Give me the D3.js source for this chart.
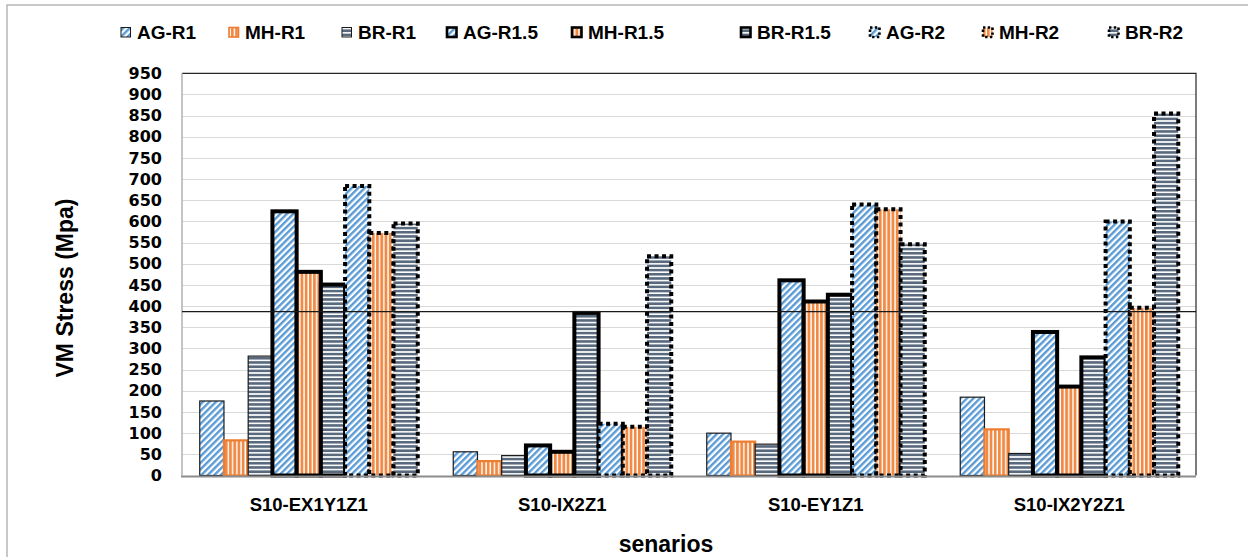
<!DOCTYPE html>
<html>
<head>
<meta charset="utf-8">
<script src="https://cdn.jsdelivr.net/npm/d3@7"></script>
<style>
  body { margin: 0; background: #fff; }
  svg { display: block; }
</style>
</head>
<body>
<svg id="chart" width="1248" height="557"></svg>
<script>
// ---------------- DATA ----------------
const categories = ["S10-EX1Y1Z1", "S10-IX2Z1", "S10-EY1Z1", "S10-IX2Y2Z1"];
const seriesNames = ["AG-R1", "MH-R1", "BR-R1", "AG-R1.5", "MH-R1.5", "BR-R1.5", "AG-R2", "MH-R2", "BR-R2"];
const agR1  = [176, 56, 100, 185];
const mhR1  = [83, 34, 80, 109];
const brR1  = [282, 47, 74, 52];
const agR15 = [624, 71, 461, 339];
const mhR15 = [481, 56, 411, 210];
const brR15 = [451, 384, 427, 279];
const agR2  = [684, 122, 640, 600];
const mhR2  = [573, 115, 629, 396];
const brR2  = [595, 518, 546, 855];
const limitValue = 387;
const yTickValues = [0, 50, 100, 150, 200, 250, 300, 350, 400, 450, 500, 550, 600, 650, 700, 750, 800, 850, 900, 950];
const yMax = 950;
const yTitle = "VM Stress (Mpa)";
const xTitle = "senarios";

const seriesValues = [agR1, mhR1, brR1, agR15, mhR15, brR15, agR2, mhR2, brR2];

// ---------------- LAYOUT ----------------
const svg = d3.select("#chart");
const plot = { left: 182, right: 1196, top: 73.3, bottom: 475.5 };

const x0 = d3.scaleBand().domain(categories).range([plot.left, plot.right])
  .paddingInner(0.14).paddingOuter(0.07);
const x1 = d3.scaleBand().domain(seriesNames).range([0, x0.bandwidth()]).padding(0);
const y = d3.scaleLinear().domain([0, yMax]).range([plot.bottom, plot.top]);

// patterns
const defs = svg.append("defs");
function stripePattern(id, angle, period, lineW, color, bg) {
  const p = defs.append("pattern").attr("id", id)
    .attr("patternUnits", "userSpaceOnUse")
    .attr("width", period).attr("height", period)
    .attr("patternTransform", `rotate(${angle})`);
  p.append("rect").attr("width", period).attr("height", period).attr("fill", bg);
  p.append("rect").attr("x", 0).attr("y", 0).attr("width", lineW).attr("height", period).attr("fill", color);
}
stripePattern("pAG", 45, 4.6, 2.4, "#5b9bd5", "#ffffff");
stripePattern("pMH", 0, 4.2, 2.8, "#f08a45", "#ffffff");
stripePattern("pBR", 90, 4.2, 2.6, "#5a6a7e", "#ffffff");

// styles per series (material -> fill, ratio -> border)
function styleOf(name) {
  const mat = name.split("-")[0];
  const ratio = name.split("-")[1];
  const s = { fill: `url(#p${mat})`, stroke: "#1a1a1a", width: 1.2, dash: null };
  if (ratio === "R1" && mat === "MH") { s.stroke = "#ed7d31"; s.width = 2.2; }
  if (ratio === "R1.5") { s.stroke = "#000"; s.width = 4; }
  if (ratio === "R2") { s.stroke = "#000"; s.width = 4; s.dash = "4 3.5"; }
  return s;
}

// outer chart border
svg.append("rect").attr("x", 7).attr("y", 5).attr("width", 1300).attr("height", 600)
  .attr("fill", "none").attr("stroke", "#a6a6a6").attr("stroke-width", 1.2);

// gridlines
svg.append("g").selectAll("line")
  .data(yTickValues.filter(v => v > 0 && v < yMax))
  .join("line")
  .attr("x1", plot.left).attr("x2", plot.right)
  .attr("y1", d => Math.round(y(d)) + 0.5).attr("y2", d => Math.round(y(d)) + 0.5)
  .attr("stroke", "#d9d9d9").attr("stroke-width", 1);

// plot frame: top & right dark, left light gray
svg.append("path")
  .attr("d", `M${plot.left},${plot.top}H${plot.right}V${plot.bottom}`)
  .attr("fill", "none").attr("stroke", "#262626").attr("stroke-width", 1.2);
svg.append("line").attr("x1", plot.left).attr("x2", plot.left)
  .attr("y1", plot.top).attr("y2", plot.bottom)
  .attr("stroke", "#b0b0b0").attr("stroke-width", 1.5);

// y axis labels
const yAxis = d3.axisLeft(y).tickValues(yTickValues).tickSize(0).tickPadding(20);
const gy = svg.append("g").attr("transform", `translate(${plot.left},0)`).call(yAxis);
gy.select(".domain").remove();
gy.selectAll("text")
  .attr("font-family", "DejaVu Sans, Verdana, sans-serif")
  .attr("font-weight", "bold").attr("font-size", "16px").attr("fill", "#000");

// bars
const groups = svg.append("g").selectAll("g")
  .data(categories)
  .join("g")
  .attr("transform", d => `translate(${x0(d)},0)`);

groups.each(function(cat, ci) {
  const g = d3.select(this);
  seriesNames.forEach((name, si) => {
    const v = seriesValues[si][ci];
    const st = styleOf(name);
    g.append("rect")
      .attr("x", x1(name))
      .attr("y", y(v))
      .attr("width", x1.bandwidth())
      .attr("height", y(0) - y(v))
      .attr("fill", st.fill)
      .attr("stroke", st.stroke)
      .attr("stroke-width", st.width)
      .attr("stroke-dasharray", st.dash);
  });
});

// bottom axis line
svg.append("line").attr("x1", plot.left - 1).attr("x2", plot.right)
  .attr("y1", plot.bottom + 1).attr("y2", plot.bottom + 1)
  .attr("stroke", "#8c8c8c").attr("stroke-width", 2);

// limit line
svg.append("line").attr("x1", plot.left).attr("x2", plot.right)
  .attr("y1", y(limitValue)).attr("y2", y(limitValue))
  .attr("stroke", "#1a1a1a").attr("stroke-width", 1.4);

// x axis labels
const xAxis = d3.axisBottom(x0).tickSize(0).tickPadding(22);
const gx = svg.append("g").attr("transform", `translate(0,${plot.bottom})`).call(xAxis);
gx.select(".domain").remove();
gx.selectAll("text")
  .attr("font-family", "Liberation Sans, Arial, sans-serif")
  .attr("font-weight", "bold").attr("font-size", "18.5px").attr("fill", "#000");

// axis titles
svg.append("text")
  .attr("transform", `translate(73,288) rotate(-90)`)
  .attr("text-anchor", "middle")
  .attr("font-family", "Liberation Sans, Arial, sans-serif")
  .attr("font-weight", "bold").attr("font-size", "23px")
  .text(yTitle);
svg.append("text")
  .attr("x", 666).attr("y", 552)
  .attr("text-anchor", "middle")
  .attr("font-family", "Liberation Sans, Arial, sans-serif")
  .attr("font-weight", "bold").attr("font-size", "23px")
  .text(xTitle);

// legend
const legendX = [120, 228, 341, 446, 571, 740, 869, 982, 1108];
const legend = svg.append("g");
seriesNames.forEach((name, i) => {
  const st = styleOf(name);
  const lx = legendX[i];
  const sw = st.width > 3 ? 2.6 : (st.width > 2 ? 1.6 : 1);
  legend.append("rect")
    .attr("x", lx + 1).attr("y", 27.5).attr("width", 9.5).attr("height", 9.5)
    .attr("fill", st.fill).attr("stroke", st.stroke).attr("stroke-width", sw)
    .attr("stroke-dasharray", st.dash ? "2.4 2.4" : null);
  legend.append("text")
    .attr("x", lx + 17).attr("y", 39)
    .attr("font-family", "Liberation Sans, Arial, sans-serif")
    .attr("font-weight", "bold").attr("font-size", "19px")
    .text(name);
});
</script>
</body>
</html>
